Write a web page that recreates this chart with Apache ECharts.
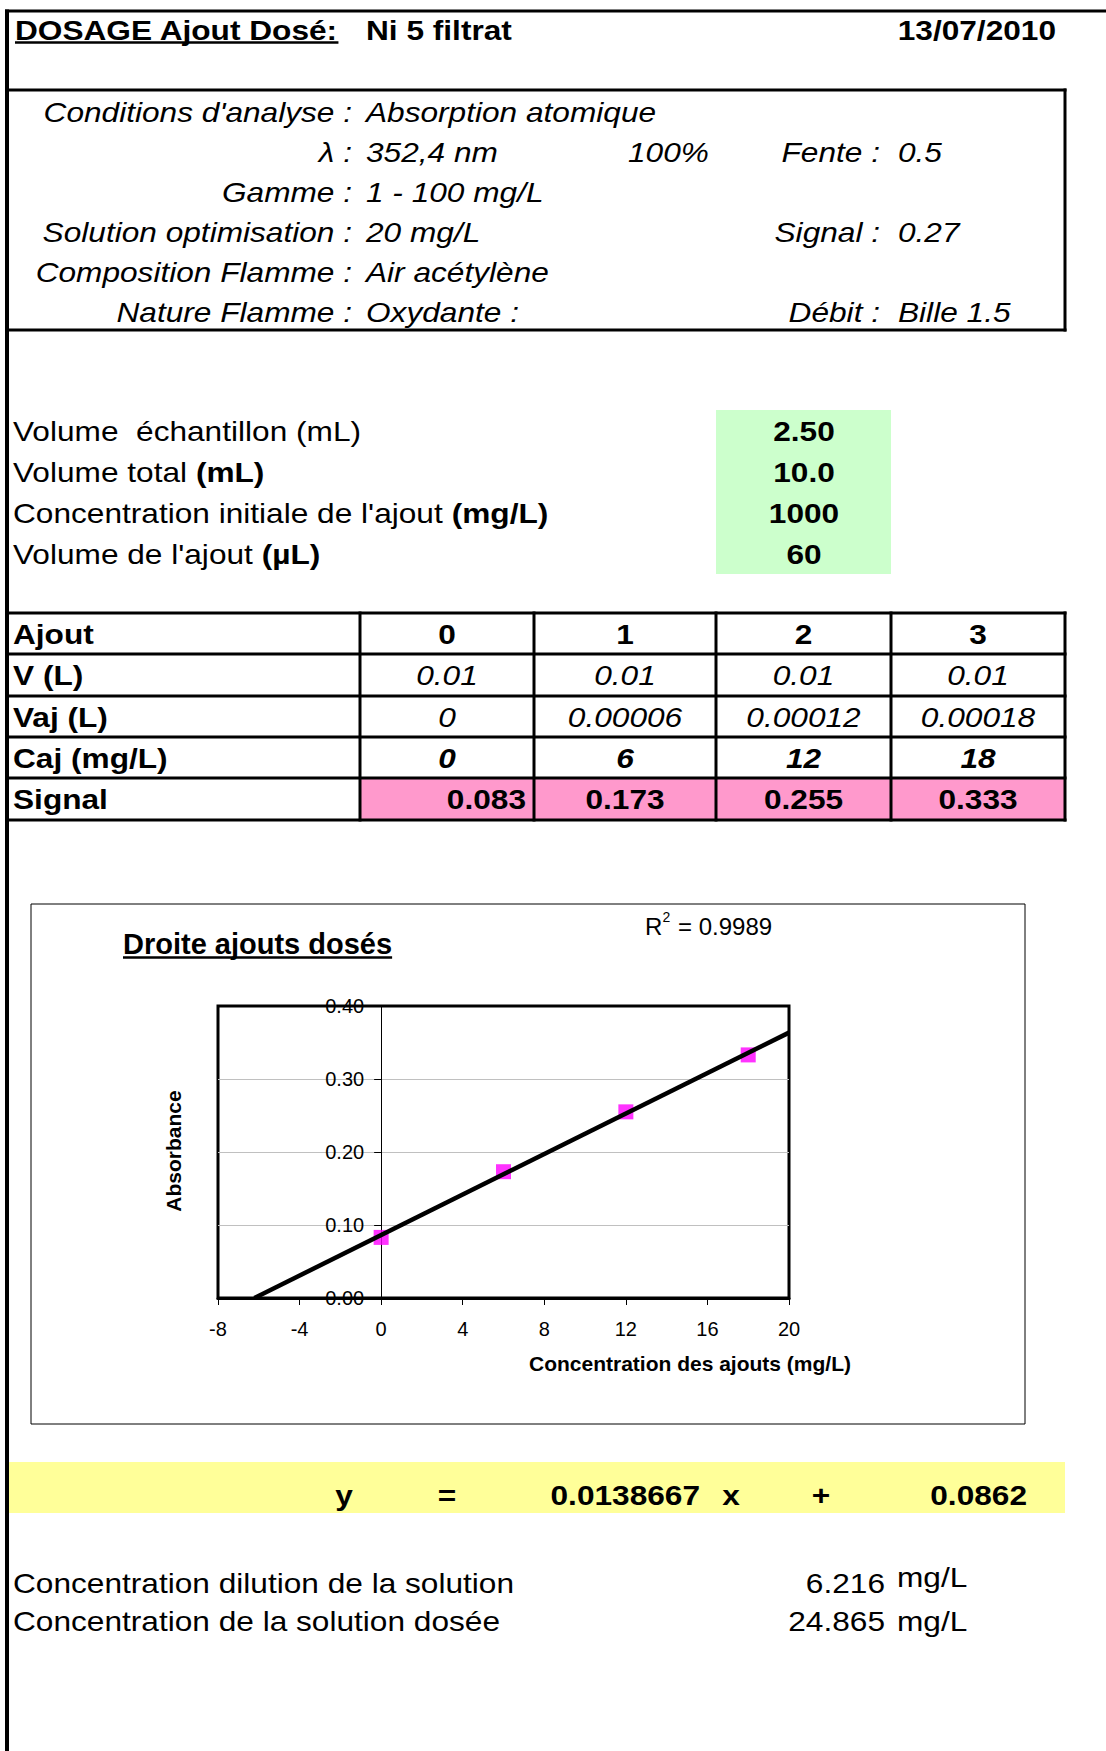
<!DOCTYPE html>
<html><head><meta charset="utf-8">
<script src="https://cdn.jsdelivr.net/npm/echarts@6/dist/echarts.min.js"></script>
<style>html,body{margin:0;padding:0;background:#fff}#c{width:1106px;height:1751px}</style>
</head><body><div id="c"></div>
<script>
// ---------------- data ----------------
const headerTitle = 'DOSAGE Ajout Dosé:';
const sampleName = 'Ni 5 filtrat';
const analysisDate = '13/07/2010';
const condLabels = ["Conditions d'analyse :", 'λ :', 'Gamme :', 'Solution optimisation :', 'Composition Flamme :', 'Nature Flamme :'];
const condValues = ['Absorption atomique', '352,4 nm', '1 - 100 mg/L', '20 mg/L', 'Air acétylène', 'Oxydante :'];
const sideLabels = ['', 'Fente :', '', 'Signal :', '', 'Débit :'];
const sideValues = ['', '0.5', '', '0.27', '', 'Bille 1.5'];
const lampPct = '100%';
const paramLabels = ['Volume \u00a0échantillon (mL)', 'Volume total ', "Concentration initiale de l'ajout ", "Volume de l'ajout "];
const paramUnits = ['', '(mL)', '(mg/L)', '(µL)'];
const paramValues = ['2.50', '10.0', '1000', '60'];
const rowLabels = ['Ajout', 'V (L)', 'Vaj (L)', 'Caj (mg/L)', 'Signal'];
const ajoutIdx = ['0', '1', '2', '3'];
const volL = ['0.01', '0.01', '0.01', '0.01'];
const vajL = ['0', '0.00006', '0.00012', '0.00018'];
const cajMgL = [0, 6, 12, 18];
const signalAbs = [0.083, 0.173, 0.255, 0.333];
const slope = 0.0138667;
const intercept = 0.0862;
const r2 = 0.9989;
const xMin = -8, xMax = 20, xStep = 4;
const yMin = 0, yMax = 0.4, yStep = 0.1;
const chartTitle = 'Droite ajouts dosés';
const xName = 'Concentration des ajouts (mg/L)';
const yName = 'Absorbance';
const resultLabels = ['Concentration dilution de la solution', 'Concentration de la solution dosée'];
const resultValues = [6.216, 24.865];
const resultUnit = 'mg/L';

// ---------------- helpers ----------------
const FONT = '"Liberation Sans", Arial, sans-serif';
const SX = 1.13;
function fnt(size, b, it) { return (it ? 'italic ' : '') + (b ? 'bold ' : '') + size + 'px ' + FONT; }
const ctx = document.createElement('canvas').getContext('2d');
function measure(t, f) { ctx.font = f; return ctx.measureText(t).width; }
const els = [];
function txt(x, cy, text, o) {
  o = o || {};
  const e = { type: 'text', x: x, y: cy, scaleX: (o.sx != null ? o.sx : SX), rotation: o.rot || 0, z: 20,
    style: { text: text, x: 0, y: 0, fill: '#000', font: fnt(o.size || 28, o.b, o.it),
      textAlign: o.al || 'left', textVerticalAlign: 'middle' } };
  if (o.rich) e.style.rich = o.rich;
  els.push(e);
}
function line(x1, y1, x2, y2, w) { els.push({ type: 'line', z: 15, shape: { x1, y1, x2, y2 }, style: { stroke: '#000', lineWidth: w } }); }
function rect(x, y, w, h, fill, stroke, lw) {
  els.push({ type: 'rect', z: 5, shape: { x, y, width: w, height: h }, style: { fill: fill || 'none', stroke: stroke || 'none', lineWidth: lw || 0 } });
}

// ---------------- page frame ----------------
line(5, 11, 1106, 11, 3);
line(7, 9.5, 7, 1751, 4);

// header
txt(15, 30, headerTitle, { b: true });
line(15, 42.5, 15 + measure(headerTitle, fnt(28, true)) * SX, 42.5, 2.5);
txt(366, 30, sampleName, { b: true });
txt(1056, 30, analysisDate, { b: true, al: 'right' });

// conditions box
line(5, 90, 1066.5, 90, 3);
line(1065, 88.5, 1065, 331.5, 3);
line(5, 330, 1066.5, 330, 3);
const condY = [112, 152, 192, 232, 272, 312];
condLabels.forEach((l, i) => {
  txt(352, condY[i], l, { it: true, al: 'right' });
  txt(366, condY[i], condValues[i], { it: true });
  if (sideLabels[i]) {
    txt(880, condY[i], sideLabels[i], { it: true, al: 'right' });
    txt(898, condY[i], sideValues[i], { it: true });
  }
});
txt(628, condY[1], lampPct, { it: true });

// parameters
rect(716, 410, 175, 164, '#CCFFCC');
const paramY = [431, 472, 513, 554];
paramLabels.forEach((l, i) => {
  const t = paramUnits[i] ? l + '{b|' + paramUnits[i] + '}' : l;
  txt(13, paramY[i], t, { rich: { b: { font: fnt(28, true) } } });
  txt(804, paramY[i], paramValues[i], { b: true, al: 'center' });
});

// table
const colX = [360, 534, 716, 891, 1065];
const rowY = [613, 654, 696, 737, 778, 820];
rect(360, 778, 705, 42, '#FF99CC');
rowY.forEach(y => line(5, y, 1066.5, y, 3));
colX.forEach(x => line(x, 611.5, x, 821.5, 3));
const cellCY = [634, 675, 717, 758, 799];
rowLabels.forEach((l, i) => txt(13, cellCY[i], l, { b: true }));
for (let j = 0; j < 4; j++) {
  const cx = (colX[j] + colX[j + 1]) / 2;
  txt(cx, cellCY[0], ajoutIdx[j], { b: true, al: 'center' });
  txt(cx, cellCY[1], volL[j], { it: true, al: 'center' });
  txt(cx, cellCY[2], vajL[j], { it: true, al: 'center' });
  txt(cx, cellCY[3], String(cajMgL[j]), { b: true, it: true, al: 'center' });
  if (j === 0) txt(colX[1] - 8, cellCY[4], signalAbs[j].toFixed(3), { b: true, al: 'right' });
  else txt(cx, cellCY[4], signalAbs[j].toFixed(3), { b: true, al: 'center' });
}

// chart frame and texts
rect(31, 904, 994, 520, 'none', '#000', 1);
txt(123, 944, chartTitle, { b: true, size: 29, sx: 1 });
line(123, 957.5, 123 + measure(chartTitle, fnt(29, true)), 957.5, 2.5);
txt(645, 926, 'R', { size: 24, sx: 1 });
txt(662.5, 917, '2', { size: 14, sx: 1 });
txt(678, 926, '= ' + r2, { size: 24, sx: 1 });
txt(690, 1363, xName, { b: true, size: 21, sx: 1, al: 'center' });
txt(173, 1151, yName, { b: true, size: 21, sx: 1, al: 'center', rot: Math.PI / 2 });

// equation band
rect(8, 1462, 1057, 51, '#FFFF99');
txt(344, 1495, 'y', { b: true, al: 'center' });
txt(447, 1495, '=', { b: true, al: 'center' });
txt(700, 1495, String(slope), { b: true, al: 'right' });
txt(731, 1495, 'x', { b: true, al: 'center' });
txt(821, 1495, '+', { b: true, al: 'center' });
txt(1027, 1495, String(intercept), { b: true, al: 'right' });

// results
const resY = [1583, 1621];
resultLabels.forEach((l, i) => {
  txt(13, resY[i], l);
  txt(885, resY[i], resultValues[i].toFixed(3), { al: 'right' });
  txt(897, resY[i] - (i === 0 ? 6 : 0), resultUnit);
});

// ---------------- chart ----------------
const points = cajMgL.map((c, i) => [c, signalAbs[i]]);
const xRoot = -intercept / slope;
const trend = [[xRoot, intercept + slope * xRoot], [xMax, intercept + slope * xMax]];
const gridLeft = 218, gridW = 571;
const yAxisOffset = -gridW * (0 - xMin) / (xMax - xMin); // puts the y axis on x = 0

const chart = echarts.init(document.getElementById('c'), null, { renderer: 'svg', width: 1106, height: 1751 });
chart.setOption({
  animation: false,
  backgroundColor: '#fff',
  textStyle: { fontFamily: FONT },
  grid: { left: gridLeft, top: 1006, width: gridW, height: 292, show: true, borderColor: '#000', borderWidth: 3, backgroundColor: 'transparent', containLabel: false },
  xAxis: {
    type: 'value', min: xMin, max: xMax, interval: xStep, position: 'bottom',
    axisLine: { show: true, onZero: false, lineStyle: { color: '#000', width: 3 } },
    axisTick: { show: true, inside: false, length: 7, lineStyle: { color: '#000', width: 1 } },
    axisLabel: { color: '#000', fontSize: 20, margin: 21, fontFamily: FONT, showMinLabel: true, showMaxLabel: true },
    splitLine: { show: false }
  },
  yAxis: {
    type: 'value', min: yMin, max: yMax, interval: yStep, position: 'left', offset: yAxisOffset,
    axisLine: { show: true, onZero: false, lineStyle: { color: '#000', width: 1 } },
    axisTick: { show: true, inside: false, length: 7, lineStyle: { color: '#000', width: 1 } },
    axisLabel: { color: '#000', fontSize: 20, margin: 17, fontFamily: FONT, formatter: v => v.toFixed(2), showMinLabel: true, showMaxLabel: true },
    splitLine: { show: true, showMinLine: false, showMaxLine: false, lineStyle: { color: '#C0C0C0', width: 1 } }
  },
  series: [
    { type: 'scatter', data: points, symbol: 'rect', symbolSize: 15, itemStyle: { color: '#FF00FF' }, z: 3, silent: true },
    { type: 'line', data: trend, symbol: 'none', lineStyle: { color: '#000', width: 4.5 }, z: 4, silent: true }
  ],
  graphic: { elements: els }
});
</script>
</body></html>
